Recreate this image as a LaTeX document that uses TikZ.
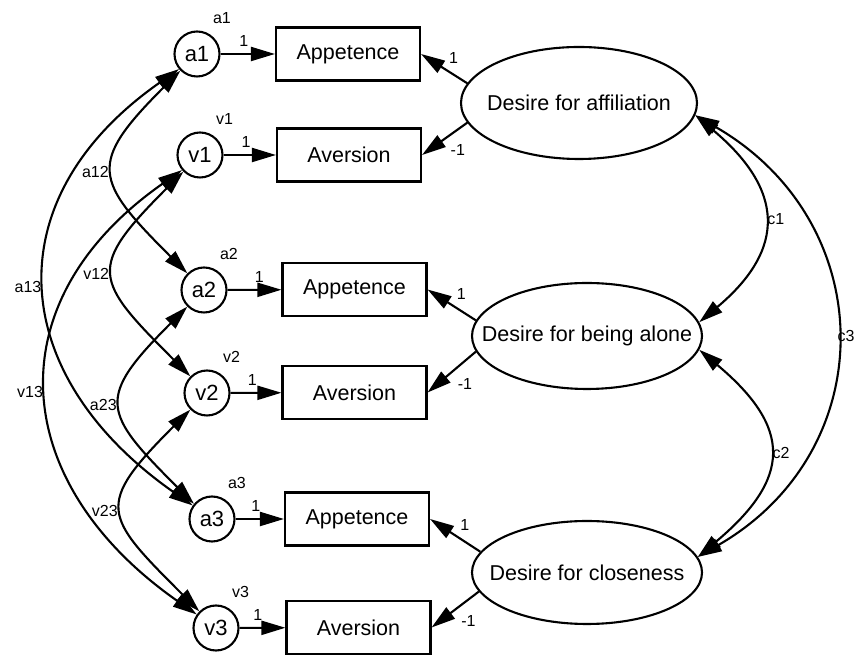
\documentclass[tikz,border=0pt]{standalone}
\usepackage{fontspec}
\setmainfont{Liberation Sans}
\usetikzlibrary{arrows.meta,shapes.geometric}
\begin{document}
\begin{tikzpicture}[x=1pt,y=1pt,
  every node/.style={font=\fontsize{21.5}{25}\selectfont},
  obs/.style={draw, line width=2.1pt, minimum width=144pt, minimum height=53pt, inner sep=0pt},
  lat/.style={draw, ellipse, line width=2.1pt, inner sep=0pt},
  err/.style={draw, circle, line width=2.1pt, minimum size=45pt, inner sep=0pt, font=\fontsize{22}{26}\selectfont},
  lbl/.style={font=\fontsize{16}{19}\selectfont, inner sep=2pt},
  tip/.tip={Triangle[length=24pt,width=14pt]},
  arr/.style={-tip, line width=2.1pt},
  cov/.style={tip-tip, line width=2.1pt},
  elab/.style={lbl, label distance=8pt}
]
\useasboundingbox (0,0) rectangle (859,655);

% error circles
\node[err, label={[elab]64:a1}] (a1) at (197,601) {a1};
\node[err, label={[elab]64:v1}] (v1) at (200,500) {v1};
\node[err, label={[elab]64:a2}] (a2) at (204,365) {a2};
\node[err, label={[elab]64:v2}] (v2) at (207,262) {v2};
\node[err, label={[elab]64:a3}] (a3) at (212,136) {a3};
\node[err, label={[elab]64:v3}] (v3) at (216,27) {v3};

% observed boxes
\node[obs] (A1) at (348,601) {Appetence};
\node[obs] (V1) at (349,500) {Aversion};
\node[obs] (A2) at (354.5,365.5) {Appetence};
\node[obs] (V2) at (354.5,262.5) {Aversion};
\node[obs] (A3) at (357,136) {Appetence};
\node[obs] (V3) at (358.5,27.5) {Aversion};

% latent ellipses
\node[lat, minimum width=236pt, minimum height=112pt] (aff) at (579,552) {\makebox[0pt]{Desire for affiliation}};
\node[lat, minimum width=230pt, minimum height=106pt] (alone) at (587,319) {\makebox[0pt]{Desire for being alone}};
\node[lat, minimum width=230pt, minimum height=103pt] (close) at (587,82.5) {\makebox[0pt]{Desire for closeness}};

% error -> indicator
\draw[arr] (a1) -- (A1) node[lbl, pos=0.43, above=4pt] {1};
\draw[arr] (v1) -- (V1) node[lbl, pos=0.43, above=4pt] {1};
\draw[arr] (a2) -- (A2) node[lbl, pos=0.59, above=4pt] {1};
\draw[arr] (v2) -- (V2) node[lbl, pos=0.43, above=4pt] {1};
\draw[arr] (a3) -- (A3) node[lbl, pos=0.42, above=4pt] {1};
\draw[arr] (v3) -- (V3) node[lbl, pos=0.40, above=4pt] {1};

% latent -> indicator
\draw[arr] (aff.170) -- (A1.east) node[lbl, pos=0.5, above right=2pt] {1};
\draw[arr] (aff.190) -- (V1.east) node[lbl, pos=0.5, below right=3pt] {-1};
\draw[arr] (alone.172) -- (A2.east) node[lbl, pos=0.5, above right=2pt] {1};
\draw[arr] (alone.188) -- (V2.east) node[lbl, pos=0.5, below right=3pt] {-1};
\draw[arr] (close.169) -- (A3.east) node[lbl, pos=0.5, above right=2pt] {1};
\draw[arr] (close.190) -- (V3.east) node[lbl, pos=0.5, below right=3pt] {-1};

% error covariances
\draw[cov] (a1.225) to[out=225, in=135, distance=132pt] node[lbl, left=2pt] {a12} (a2.135);
\draw[cov] (a1.220) to[out=215, in=145, distance=227pt] node[lbl, left=2pt] {a13} (a3.145);
\draw[cov] (v1.225) to[out=225, in=135, distance=137pt] node[lbl, left=2pt] {v12} (v2.135);
\draw[cov] (v1.220) to[out=215, in=145, distance=230pt] node[lbl, left=2pt] {v13} (v3.145);
\draw[cov] (a2.225) to[out=225, in=135, distance=130pt] node[lbl, left=2pt] {a23} (a3.140);
\draw[cov] (v2.225) to[out=225, in=135, distance=136pt] node[lbl, left=2pt] {v23} (v3.135);

% latent covariances
\draw[cov] (aff.-6) to[out=-40, in=40, distance=115pt] node[lbl, right=1pt] {c1} (alone.7);
\draw[cov] (alone.-7) to[out=-40, in=40, distance=122pt] node[lbl, right=1pt] {c2} (close.8);
\draw[cov] (aff.-6) to[out=-30, in=30, distance=214pt] node[lbl, right=0pt, inner sep=1pt] {c3} (close.8);
\end{tikzpicture}
\end{document}
